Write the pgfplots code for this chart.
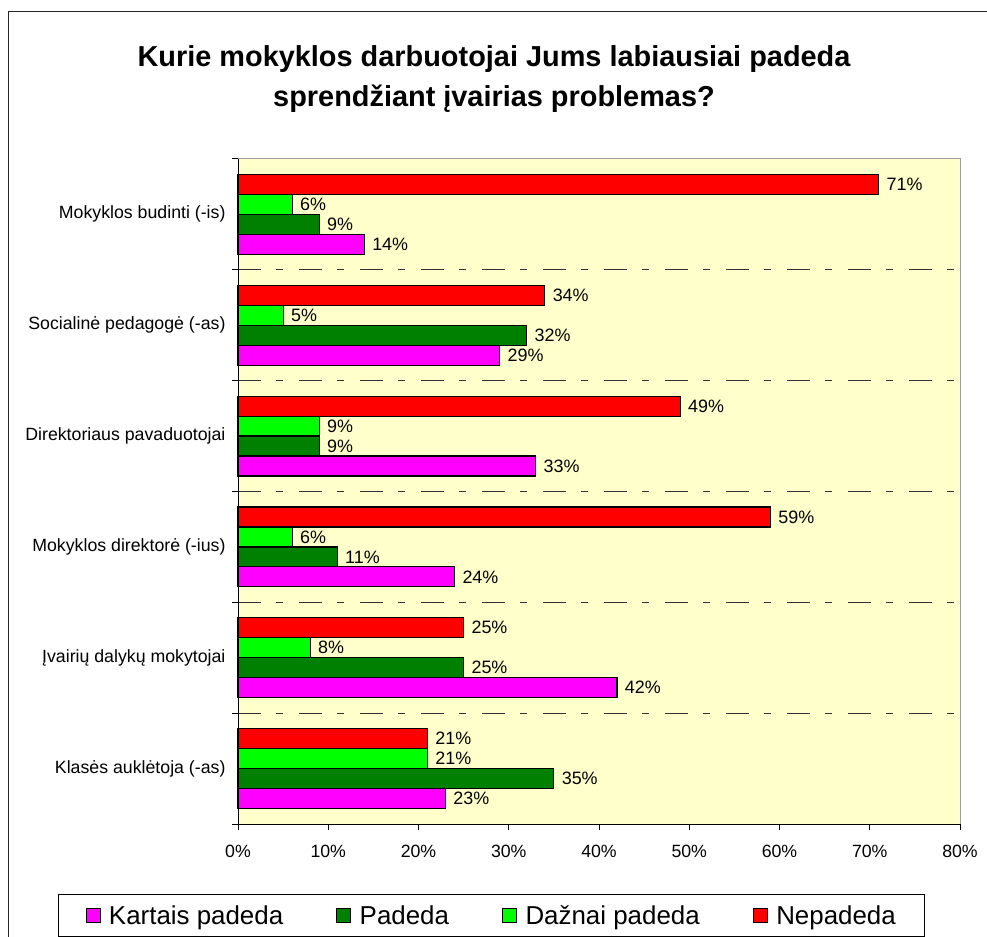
\documentclass[border=0pt]{standalone}
\usepackage{fontspec}
\setmainfont{Liberation Sans}
\usepackage{pgfplots}
\usepackage{pgfplotstable}
\pgfplotsset{compat=1.18}
\definecolor{bgyellow}{HTML}{FFFFCC}
\definecolor{cmag}{HTML}{FF00FF}
\definecolor{cdkgreen}{HTML}{008000}
\definecolor{clime}{HTML}{00FF00}
\definecolor{cred}{HTML}{FF0000}

% y: 0 = bottom category, 5 = top category
\pgfplotstableread{
y K P D N
0 23 35 21 21
1 42 25 8 25
2 24 11 6 59
3 33 9 9 49
4 29 32 5 34
5 14 9 6 71
}\datatable

\begin{document}
\begin{tikzpicture}
\path[use as bounding box] (0,0) rectangle (987bp,937bp);
\fill[white] (0,0) rectangle (987bp,937bp);
\draw[line width=1bp, black!85] (8bp,-20bp) -- (8bp,925bp) -- (1000bp,925bp);
\node[font=\fontsize{29}{34}\selectfont\bfseries, anchor=base] at (494bp,870bp) {Kurie mokyklos darbuotojai Jums labiausiai padeda};
\node[font=\fontsize{29}{34}\selectfont\bfseries, anchor=base] at (494bp,830bp) {sprendžiant įvairias problemas?};
\begin{axis}[
  at={(238bp,113bp)}, anchor=south west,
  width=722bp, height=665bp, scale only axis,
  xmin=0, xmax=80, ymin=-0.5, ymax=5.5,
  xbar, bar width=0.18,
  clip=false,
  axis background/.style={fill=bgyellow, draw=gray!75, line width=1bp},
  axis x line*=bottom, axis y line*=left,
  axis line style={black, line width=1bp},
  /pgf/number format/assume math mode=true,
  tick align=outside,
  major tick length=6bp,
  tick style={black, line width=1bp},
  xtick={0,10,...,80},
  xticklabel={\pgfmathprintnumber{\tick}\%},
  xticklabel style={font=\fontsize{17.8}{20}\selectfont, yshift=-12bp},
  ytick={-0.5,0.5,...,5.5},
  yticklabels={},
  minor ytick={0.5,1.5,...,4.5},
  minor tick length=0bp,
  yminorgrids=true,
  minor grid style={black!80, line width=1bp, dash pattern=on 23bp off 15bp on 7bp off 16bp},
  extra y ticks={0,1,2,3,4,5},
  extra y tick labels={Klasės auklėtoja (-as),Įvairių dalykų mokytojai,Mokyklos direktorė (-ius),Direktoriaus pavaduotojai,Socialinė pedagogė (-as),Mokyklos budinti (-is)},
  extra y tick style={major tick length=0bp, grid=none, yticklabel style={font=\fontsize{17.8}{20}\selectfont, xshift=-9bp}},
  every axis plot/.append style={draw=black, line width=1.2bp},
  nodes near coords={\pgfmathprintnumber{\pgfplotspointmeta}\%},
  nodes near coords style={font=\fontsize{18}{20}\selectfont, black, xshift=4bp},
  legend columns=4,
  legend image code/.code={\draw[#1, line width=1bp] (0bp,-7bp) rectangle (14bp,7bp); \path[draw=none, fill=none] (0bp,0bp) -- (21bp,0bp);},
  legend style={at={(-0.2493,-0.1053)}, anchor=north west, draw=black, line width=1bp,
    font=\fontsize{26}{31}\selectfont, inner xsep=27bp, inner ysep=9bp,
    /tikz/every even column/.append style={column sep=51bp}},
]
\addplot[fill=cmag, bar shift=-0.27] table[x=K, y=y] {\datatable};
\addplot[fill=cdkgreen, bar shift=-0.09] table[x=P, y=y] {\datatable};
\addplot[fill=clime, bar shift=0.09] table[x=D, y=y] {\datatable};
\addplot[fill=cred, bar shift=0.27] table[x=N, y=y] {\datatable};
\legend{Kartais padeda, Padeda, Dažnai padeda, Nepadeda}
\end{axis}
\end{tikzpicture}
\end{document}
